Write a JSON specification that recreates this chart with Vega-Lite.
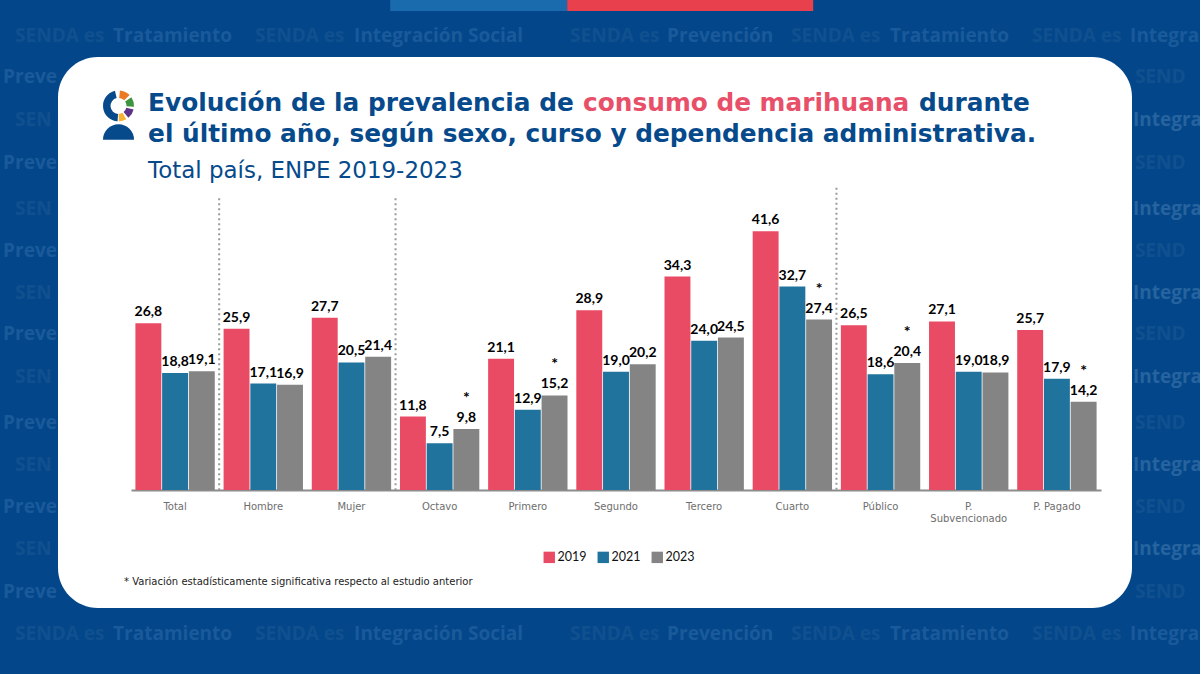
{
  "$schema": "https://vega.github.io/schema/vega-lite/v6.json",
  "description": "Evolución de la prevalencia de consumo de marihuana durante el último año, ENPE 2019-2023",
  "width": 1074,
  "height": 551,
  "autosize": "none",
  "padding": {"left": 58, "top": 57, "right": 68, "bottom": 66},
  "background": "#03478a",
  "view": {"fill": "white", "cornerRadius": 40, "stroke": null},
  "datasets": {
    "prevalencia": [
      {"grupo": "Total", "anio": "2019", "valor": 26.8, "etiqueta": "26,8"},
      {"grupo": "Total", "anio": "2021", "valor": 18.8, "etiqueta": "18,8"},
      {"grupo": "Total", "anio": "2023", "valor": 19.1, "etiqueta": "19,1"},
      {"grupo": "Hombre", "anio": "2019", "valor": 25.9, "etiqueta": "25,9"},
      {"grupo": "Hombre", "anio": "2021", "valor": 17.1, "etiqueta": "17,1"},
      {"grupo": "Hombre", "anio": "2023", "valor": 16.9, "etiqueta": "16,9"},
      {"grupo": "Mujer", "anio": "2019", "valor": 27.7, "etiqueta": "27,7"},
      {"grupo": "Mujer", "anio": "2021", "valor": 20.5, "etiqueta": "20,5"},
      {"grupo": "Mujer", "anio": "2023", "valor": 21.4, "etiqueta": "21,4"},
      {"grupo": "Octavo", "anio": "2019", "valor": 11.8, "etiqueta": "11,8"},
      {"grupo": "Octavo", "anio": "2021", "valor": 7.5, "etiqueta": "7,5"},
      {"grupo": "Octavo", "anio": "2023", "valor": 9.8, "etiqueta": "9,8", "signo": "*"},
      {"grupo": "Primero", "anio": "2019", "valor": 21.1, "etiqueta": "21,1"},
      {"grupo": "Primero", "anio": "2021", "valor": 12.9, "etiqueta": "12,9"},
      {"grupo": "Primero", "anio": "2023", "valor": 15.2, "etiqueta": "15,2", "signo": "*"},
      {"grupo": "Segundo", "anio": "2019", "valor": 28.9, "etiqueta": "28,9"},
      {"grupo": "Segundo", "anio": "2021", "valor": 19.0, "etiqueta": "19,0"},
      {"grupo": "Segundo", "anio": "2023", "valor": 20.2, "etiqueta": "20,2"},
      {"grupo": "Tercero", "anio": "2019", "valor": 34.3, "etiqueta": "34,3"},
      {"grupo": "Tercero", "anio": "2021", "valor": 24.0, "etiqueta": "24,0"},
      {"grupo": "Tercero", "anio": "2023", "valor": 24.5, "etiqueta": "24,5"},
      {"grupo": "Cuarto", "anio": "2019", "valor": 41.6, "etiqueta": "41,6"},
      {"grupo": "Cuarto", "anio": "2021", "valor": 32.7, "etiqueta": "32,7"},
      {"grupo": "Cuarto", "anio": "2023", "valor": 27.4, "etiqueta": "27,4", "signo": "*"},
      {"grupo": "Público", "anio": "2019", "valor": 26.5, "etiqueta": "26,5"},
      {"grupo": "Público", "anio": "2021", "valor": 18.6, "etiqueta": "18,6"},
      {"grupo": "Público", "anio": "2023", "valor": 20.4, "etiqueta": "20,4", "signo": "*"},
      {"grupo": "P. Subvencionado", "anio": "2019", "valor": 27.1, "etiqueta": "27,1"},
      {"grupo": "P. Subvencionado", "anio": "2021", "valor": 19.0, "etiqueta": "19,0"},
      {"grupo": "P. Subvencionado", "anio": "2023", "valor": 18.9, "etiqueta": "18,9"},
      {"grupo": "P. Pagado", "anio": "2019", "valor": 25.7, "etiqueta": "25,7"},
      {"grupo": "P. Pagado", "anio": "2021", "valor": 17.9, "etiqueta": "17,9"},
      {"grupo": "P. Pagado", "anio": "2023", "valor": 14.2, "etiqueta": "14,2", "signo": "*"}
    ]
  },
  "encoding": {
    "x": {
      "field": "grupo",
      "type": "nominal",
      "sort": ["Total", "Hombre", "Mujer", "Octavo", "Primero", "Segundo", "Tercero", "Cuarto", "Público", "P. Subvencionado", "P. Pagado"],
      "scale": {"range": [73, 1043], "paddingInner": 0.1, "paddingOuter": 0.05},
      "axis": {
        "title": null,
        "offset": -118,
        "orient": "bottom",
        "labelAngle": 0,
        "ticks": false,
        "grid": false,
        "domainColor": "#8c8c8c",
        "domainWidth": 2,
        "labelColor": "#6e6e6e",
        "labelFont": "DejaVu Sans",
        "labelFontSize": 10,
        "labelPadding": 11,
        "labelLimit": 200,
        "labelExpr": "datum.label == 'P. Subvencionado' ? ['P.', 'Subvencionado'] : datum.label"
      }
    },
    "y": {
      "field": "valor",
      "type": "quantitative",
      "stack": null,
      "scale": {"domain": [-18.97, 69.6], "nice": false, "zero": false},
      "axis": null
    }
  },
  "layer": [
    {
      "data": {"values": [{"grupo": "Total", "texto": "Preve", "valor": 66.56}, {"grupo": "Total", "texto": "Preve", "valor": 52.73}, {"grupo": "Total", "texto": "Preve", "valor": 38.59}, {"grupo": "Total", "texto": "Preve", "valor": 25.24}, {"grupo": "Total", "texto": "Preve", "valor": 10.93}, {"grupo": "Total", "texto": "Preve", "valor": -2.57}, {"grupo": "Total", "texto": "Preve", "valor": -16.08}]},
      "mark": {"type": "text", "font": "Open Sans", "fontWeight": "bold", "fontSize": 19, "color": "#1a5a9a", "align": "left", "dx": -172, "dy": 1.5},
      "encoding": {"text": {"field": "texto"}}
    },
    {
      "data": {"values": [{"grupo": "Total", "texto": "SEN", "valor": 59.65}, {"grupo": "Total", "texto": "SEN", "valor": 45.34}, {"grupo": "Total", "texto": "SEN", "valor": 31.83}, {"grupo": "Total", "texto": "SEN", "valor": 18.33}, {"grupo": "Total", "texto": "SEN", "valor": 4.18}, {"grupo": "Total", "texto": "SEN", "valor": -9.32}]},
      "mark": {"type": "text", "font": "Open Sans", "fontWeight": "bold", "fontSize": 19, "color": "#11508f", "align": "left", "dx": -160, "dy": 1.5},
      "encoding": {"text": {"field": "texto"}}
    },
    {
      "data": {"values": [{"grupo": "P. Pagado", "texto": "Integra", "valor": 59.65}, {"grupo": "P. Pagado", "texto": "Integra", "valor": 45.34}, {"grupo": "P. Pagado", "texto": "Integra", "valor": 31.83}, {"grupo": "P. Pagado", "texto": "Integra", "valor": 18.33}, {"grupo": "P. Pagado", "texto": "Integra", "valor": 4.18}, {"grupo": "P. Pagado", "texto": "Integra", "valor": -9.32}]},
      "mark": {"type": "text", "font": "Open Sans", "fontWeight": "bold", "fontSize": 19, "color": "#26639f", "align": "left", "dx": 76, "dy": 1.5},
      "encoding": {"text": {"field": "texto"}}
    },
    {
      "data": {"values": [{"grupo": "P. Pagado", "texto": "SEND", "valor": 66.56}, {"grupo": "P. Pagado", "texto": "SEND", "valor": 52.73}, {"grupo": "P. Pagado", "texto": "SEND", "valor": 38.59}, {"grupo": "P. Pagado", "texto": "SEND", "valor": 25.24}, {"grupo": "P. Pagado", "texto": "SEND", "valor": 10.93}, {"grupo": "P. Pagado", "texto": "SEND", "valor": -2.57}, {"grupo": "P. Pagado", "texto": "SEND", "valor": -16.08}]},
      "mark": {"type": "text", "font": "Open Sans", "fontWeight": "bold", "fontSize": 19, "color": "#11508f", "align": "left", "dx": 78, "dy": 1.5},
      "encoding": {"text": {"field": "texto"}}
    },
    {
      "data": {"values": [{"grupo": "Total", "texto": "SENDA es", "valor": 73.15}, {"grupo": "Total", "texto": "SENDA es", "valor": -22.83}]},
      "mark": {"type": "text", "font": "Open Sans", "fontWeight": "bold", "fontSize": 19, "color": "#11508f", "align": "left", "dx": -160, "dy": 1.5},
      "encoding": {"text": {"field": "texto"}}
    },
    {
      "data": {"values": [{"grupo": "Total", "texto": "Tratamiento", "valor": 73.15}, {"grupo": "Total", "texto": "Tratamiento", "valor": -22.83}]},
      "mark": {"type": "text", "font": "Open Sans", "fontWeight": "bold", "fontSize": 19, "color": "#1a5a9a", "align": "left", "dx": -62, "dy": 1.5},
      "encoding": {"text": {"field": "texto"}}
    },
    {
      "data": {"values": [{"grupo": "Total", "texto": "SENDA es", "valor": 73.15}, {"grupo": "Total", "texto": "SENDA es", "valor": -22.83}]},
      "mark": {"type": "text", "font": "Open Sans", "fontWeight": "bold", "fontSize": 19, "color": "#11508f", "align": "left", "dx": 80, "dy": 1.5},
      "encoding": {"text": {"field": "texto"}}
    },
    {
      "data": {"values": [{"grupo": "Total", "texto": "Integración Social", "valor": 73.15}, {"grupo": "Total", "texto": "Integración Social", "valor": -22.83}]},
      "mark": {"type": "text", "font": "Open Sans", "fontWeight": "bold", "fontSize": 19, "color": "#1a5a9a", "align": "left", "dx": 179, "dy": 1.5},
      "encoding": {"text": {"field": "texto"}}
    },
    {
      "data": {"values": [{"grupo": "Total", "texto": "SENDA es", "valor": 73.15}, {"grupo": "Total", "texto": "SENDA es", "valor": -22.83}]},
      "mark": {"type": "text", "font": "Open Sans", "fontWeight": "bold", "fontSize": 19, "color": "#11508f", "align": "left", "dx": 395, "dy": 1.5},
      "encoding": {"text": {"field": "texto"}}
    },
    {
      "data": {"values": [{"grupo": "Total", "texto": "Prevención", "valor": 73.15}, {"grupo": "Total", "texto": "Prevención", "valor": -22.83}]},
      "mark": {"type": "text", "font": "Open Sans", "fontWeight": "bold", "fontSize": 19, "color": "#1a5a9a", "align": "left", "dx": 492, "dy": 1.5},
      "encoding": {"text": {"field": "texto"}}
    },
    {
      "data": {"values": [{"grupo": "Total", "texto": "SENDA es", "valor": 73.15}, {"grupo": "Total", "texto": "SENDA es", "valor": -22.83}]},
      "mark": {"type": "text", "font": "Open Sans", "fontWeight": "bold", "fontSize": 19, "color": "#11508f", "align": "left", "dx": 616, "dy": 1.5},
      "encoding": {"text": {"field": "texto"}}
    },
    {
      "data": {"values": [{"grupo": "Total", "texto": "Tratamiento", "valor": 73.15}, {"grupo": "Total", "texto": "Tratamiento", "valor": -22.83}]},
      "mark": {"type": "text", "font": "Open Sans", "fontWeight": "bold", "fontSize": 19, "color": "#1a5a9a", "align": "left", "dx": 715, "dy": 1.5},
      "encoding": {"text": {"field": "texto"}}
    },
    {
      "data": {"values": [{"grupo": "Total", "texto": "SENDA es", "valor": 73.15}, {"grupo": "Total", "texto": "SENDA es", "valor": -22.83}]},
      "mark": {"type": "text", "font": "Open Sans", "fontWeight": "bold", "fontSize": 19, "color": "#11508f", "align": "left", "dx": 857, "dy": 1.5},
      "encoding": {"text": {"field": "texto"}}
    },
    {
      "data": {"values": [{"grupo": "Total", "texto": "Integra", "valor": 73.15}, {"grupo": "Total", "texto": "Integra", "valor": -22.83}]},
      "mark": {"type": "text", "font": "Open Sans", "fontWeight": "bold", "fontSize": 19, "color": "#1a5a9a", "align": "left", "dx": 955, "dy": 1.5},
      "encoding": {"text": {"field": "texto"}}
    },
    {
      "data": {"values": [{"grupo": "Octavo", "valor": 77, "techo": 78.8}]},
      "mark": {"type": "bar", "width": 177, "color": "#1a6aae", "xOffset": 39},
      "encoding": {"y2": {"field": "techo"}}
    },
    {
      "data": {"values": [{"grupo": "Tercero", "valor": 77, "techo": 78.8}]},
      "mark": {"type": "bar", "width": 246, "color": "#e8404d", "xOffset": -14},
      "encoding": {"y2": {"field": "techo"}}
    },
    {
      "data": {"values": [{"grupo": "Total", "valor": 61.74}]},
      "layer": [
        {"mark": {"type": "arc", "radius": 15.5, "radius2": 8, "theta": 3.2, "theta2": 6.05, "color": "#064a8c"}},
        {"mark": {"type": "arc", "radius": 15.5, "radius2": 8, "theta": 0.09, "theta2": 0.8, "color": "#ea7a24"}},
        {"mark": {"type": "arc", "radius": 15.5, "radius2": 8, "theta": 0.98, "theta2": 1.62, "color": "#3f9441"}},
        {"mark": {"type": "arc", "radius": 15.5, "radius2": 8, "theta": 1.8, "theta2": 2.45, "color": "#5e3288"}},
        {"mark": {"type": "arc", "radius": 15.5, "radius2": 8, "theta": 2.62, "theta2": 3.12, "color": "#f5b335"}}
      ],
      "encoding": {
        "x": {"field": "grupo", "type": "nominal", "sort": ["Total", "Hombre", "Mujer", "Octavo", "Primero", "Segundo", "Tercero", "Cuarto", "Público", "P. Subvencionado", "P. Pagado"], "bandPosition": -0.213}
      }
    },
    {
      "data": {"values": [{"grupo": "Total", "valor": 56.3}]},
      "mark": {"type": "arc", "radius": 15.5, "theta": -1.5708, "theta2": 1.5708, "color": "#064a8c"},
      "encoding": {
        "x": {"field": "grupo", "type": "nominal", "sort": ["Total", "Hombre", "Mujer", "Octavo", "Primero", "Segundo", "Tercero", "Cuarto", "Público", "P. Subvencionado", "P. Pagado"], "bandPosition": -0.213}
      }
    },
    {
      "data": {"values": [{"grupo": "Total", "texto": "Evolución de la prevalencia de", "valor": 60.9}, {"grupo": "Total", "texto": "el último año, según sexo, curso y dependencia administrativa.", "valor": 55.9}]},
      "mark": {"type": "text", "font": "DejaVu Sans", "fontWeight": "bold", "fontSize": 24.8, "color": "#064a8c", "align": "left", "baseline": "alphabetic", "dx": -27},
      "encoding": {"text": {"field": "texto"}}
    },
    {
      "data": {"values": [{"grupo": "Total", "texto": "consumo de marihuana", "valor": 60.9}]},
      "mark": {"type": "text", "font": "DejaVu Sans", "fontWeight": "bold", "fontSize": 24.8, "color": "#e8506a", "align": "left", "baseline": "alphabetic", "dx": 408},
      "encoding": {"text": {"field": "texto"}}
    },
    {
      "data": {"values": [{"grupo": "Total", "texto": "durante", "valor": 60.9}]},
      "mark": {"type": "text", "font": "DejaVu Sans", "fontWeight": "bold", "fontSize": 24.8, "color": "#064a8c", "align": "left", "baseline": "alphabetic", "dx": 744},
      "encoding": {"text": {"field": "texto"}}
    },
    {
      "data": {"values": [{"grupo": "Total", "texto": "Total país, ENPE 2019-2023", "valor": 50.1}]},
      "mark": {"type": "text", "font": "DejaVu Sans", "fontSize": 22.95, "color": "#064a8c", "align": "left", "baseline": "alphabetic", "dx": -27},
      "encoding": {"text": {"field": "texto"}}
    },
    {
      "data": {"values": [{"grupo": "Total", "texto": "* Variación estadísticamente significativa respecto al estudio anterior", "valor": -15.3}]},
      "mark": {"type": "text", "font": "DejaVu Sans", "fontSize": 10, "color": "#222222", "align": "left", "baseline": "alphabetic", "dx": -51},
      "encoding": {"text": {"field": "texto"}}
    },
    {
      "data": {"values": [{"grupo": "Hombre", "valor": 46.9, "base": 0}, {"grupo": "Octavo", "valor": 46.9, "base": 0}, {"grupo": "Público", "valor": 48.6, "base": 0}]},
      "mark": {"type": "rule", "color": "#9a9a9a", "strokeWidth": 2, "strokeDash": [2, 3]},
      "encoding": {
        "x": {"field": "grupo", "type": "nominal", "sort": ["Total", "Hombre", "Mujer", "Octavo", "Primero", "Segundo", "Tercero", "Cuarto", "Público", "P. Subvencionado", "P. Pagado"], "bandPosition": -0.0556},
        "y2": {"field": "base"}
      }
    },
    {
      "data": {"name": "prevalencia"},
      "mark": {"type": "bar"},
      "encoding": {
        "xOffset": {"field": "anio", "type": "nominal", "scale": {"paddingInner": 0.03}},
        "color": {
          "field": "anio",
          "type": "nominal",
          "scale": {"domain": ["2019", "2021", "2023"], "range": ["#e94a64", "#1f739d", "#848484"]},
          "legend": {
            "orient": "none",
            "legendX": 485,
            "legendY": 494,
            "direction": "horizontal",
            "title": null,
            "symbolType": "square",
            "symbolSize": 130,
            "symbolStrokeWidth": 0,
            "labelFont": "Lato",
            "labelFontSize": 12.5,
            "labelColor": "#111111",
            "columnPadding": 10,
            "labelOffset": 2
          }
        }
      }
    },
    {
      "data": {"name": "prevalencia"},
      "mark": {"type": "text", "font": "Lato", "fontWeight": "bold", "fontSize": 14, "color": "#000000", "baseline": "alphabetic", "dy": -7},
      "encoding": {
        "xOffset": {"field": "anio", "type": "nominal"},
        "text": {"field": "etiqueta"}
      }
    },
    {
      "data": {"name": "prevalencia"},
      "transform": [{"filter": "datum.signo"}],
      "mark": {"type": "text", "font": "Lato", "fontWeight": "bold", "fontSize": 16, "color": "#000000", "baseline": "alphabetic", "dy": -26},
      "encoding": {
        "xOffset": {"field": "anio", "type": "nominal"},
        "text": {"field": "signo"}
      }
    }
  ]
}
